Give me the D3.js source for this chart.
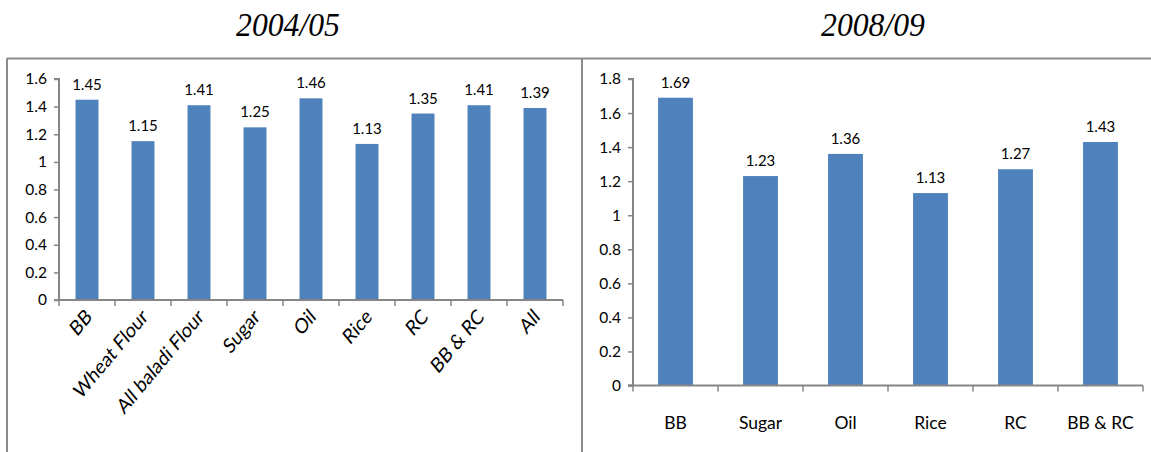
<!DOCTYPE html>
<html>
<head>
<meta charset="utf-8">
<script src="https://cdn.jsdelivr.net/npm/d3@7"></script>
<style>
  html, body { margin: 0; padding: 0; background: #fff; }
  svg { display: block; }
</style>
</head>
<body>
<svg id="chart" width="1151" height="452"></svg>
<script>
// Per-capita ratios by commodity, two survey rounds
const categories0405 = ["BB", "Wheat Flour", "All baladi Flour", "Sugar", "Oil", "Rice", "RC", "BB & RC", "All"];
const values0405 = [1.45, 1.15, 1.41, 1.25, 1.46, 1.13, 1.35, 1.41, 1.39];
const ticks0405 = [0, 0.2, 0.4, 0.6, 0.8, 1, 1.2, 1.4, 1.6];

const categories0809 = ["BB", "Sugar", "Oil", "Rice", "RC", "BB & RC"];
const values0809 = [1.69, 1.23, 1.36, 1.13, 1.27, 1.43];
const ticks0809 = [0, 0.2, 0.4, 0.6, 0.8, 1, 1.2, 1.4, 1.6, 1.8];

const titles = ["2004/05", "2008/09"];

const svg = d3.select("#chart");
const FONT = "Lato, 'Open Sans', sans-serif";
const BAR = "#4f81bd";
const AXIS = "#868686";
const FRAME = "#8c8c8c";

// panel frame: top rule, left edge, divider
svg.append("line").attr("x1", 7).attr("x2", 1151).attr("y1", 58.5).attr("y2", 58.5)
  .attr("stroke", FRAME).attr("stroke-width", 2);
svg.append("line").attr("x1", 7).attr("x2", 7).attr("y1", 58).attr("y2", 452)
  .attr("stroke", FRAME).attr("stroke-width", 2);
svg.append("line").attr("x1", 582).attr("x2", 582).attr("y1", 58).attr("y2", 452)
  .attr("stroke", FRAME).attr("stroke-width", 2);

// panel titles
[[288, titles[0]], [873, titles[1]]].forEach(([cx, t]) => {
  svg.append("text")
    .attr("transform", `translate(${cx},36) scale(0.96,1)`)
    .attr("text-anchor", "middle")
    .attr("font-family", "'Liberation Serif', 'Times New Roman', serif")
    .attr("font-style", "italic")
    .attr("font-size", 33)
    .attr("fill", "#000")
    .text(t);
});

function panel(opts) {
  const { cats, vals, ticks, x0, x1, y0, yTop, yMax, rotate } = opts;
  const g = svg.append("g");
  const x = d3.scaleBand().domain(cats).range([x0, x1]).paddingInner(0.59).paddingOuter(0.295);
  const y = d3.scaleLinear().domain([0, yMax]).range([y0, yTop]);

  // y axis
  const yAxis = d3.axisLeft(y).tickValues(ticks).tickSize(5).tickPadding(7)
    .tickFormat(d => d3.format("")(d));
  const gy = g.append("g").attr("transform", `translate(${x0},0)`).call(yAxis);
  gy.select(".domain").attr("stroke", AXIS).attr("stroke-width", 2)
    .attr("d", `M-5,${y0}H0V${yTop}H-5`);
  gy.selectAll(".tick line").attr("stroke", AXIS).attr("stroke-width", 1.5);
  gy.selectAll(".tick text").attr("font-family", FONT).attr("font-size", 15.5).attr("fill", "#000");

  // bars
  g.selectAll("rect.bar").data(vals).enter().append("rect")
    .attr("class", "bar")
    .attr("x", (d, i) => x(cats[i]))
    .attr("width", x.bandwidth())
    .attr("y", d => y(d))
    .attr("height", d => y0 - y(d))
    .attr("fill", BAR);

  // value labels
  g.selectAll("text.val").data(vals).enter().append("text")
    .attr("class", "val")
    .attr("x", (d, i) => x(cats[i]) + x.bandwidth() / 2)
    .attr("y", d => y(d) - 10)
    .attr("text-anchor", "middle")
    .attr("font-family", FONT).attr("font-size", 15).attr("fill", "#000")
    .text(d => d3.format(".2f")(d));

  // x axis with category boundary ticks
  const step = x.step();
  const gx = g.append("g");
  gx.append("line").attr("x1", x0 - 5).attr("x2", x1).attr("y1", y0).attr("y2", y0)
    .attr("stroke", AXIS).attr("stroke-width", 2);
  gx.selectAll("line.t").data(d3.range(cats.length + 1)).enter().append("line")
    .attr("class", "t")
    .attr("x1", i => x0 + i * step).attr("x2", i => x0 + i * step)
    .attr("y1", y0).attr("y2", y0 + 6)
    .attr("stroke", AXIS).attr("stroke-width", 1.5);

  // category labels (diagonal labels are drawn slightly stretched vertically)
  gx.selectAll("text.cat").data(cats).enter().append("text")
    .attr("class", "cat")
    .attr("font-family", FONT).attr("font-size", 17.5).attr("fill", "#000")
    .each(function (d) {
      const cx = x(d) + x.bandwidth() / 2;
      const t = d3.select(this);
      if (rotate) {
        t.attr("text-anchor", "end")
          .attr("transform", `translate(${cx + 6},${y0 + 18}) scale(1,1.2) rotate(-45)`)
          .text(d);
      } else {
        t.attr("text-anchor", "middle").attr("x", cx).attr("y", y0 + 43).text(d);
      }
    });
}

panel({ cats: categories0405, vals: values0405, ticks: ticks0405,
  x0: 59, x1: 563, y0: 300, yTop: 79, yMax: 1.6, rotate: true });
panel({ cats: categories0809, vals: values0809, ticks: ticks0809,
  x0: 633, x1: 1143, y0: 385.5, yTop: 79, yMax: 1.8, rotate: false });
</script>
</body>
</html>
